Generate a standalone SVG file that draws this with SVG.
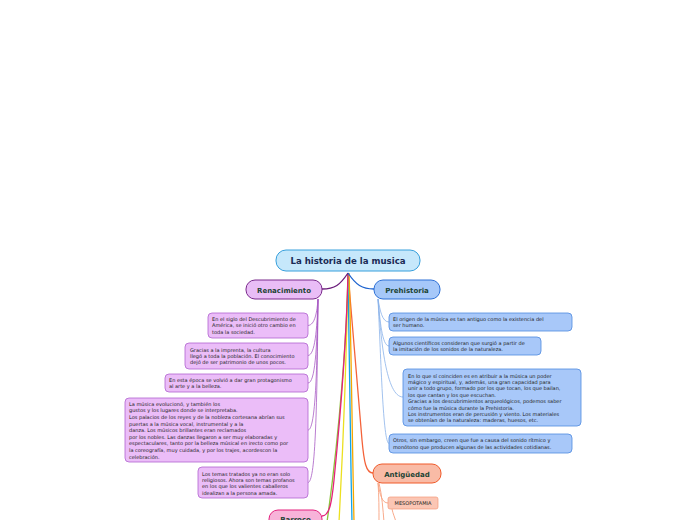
<svg xmlns="http://www.w3.org/2000/svg" width="696" height="520" viewBox="0 0 696 520">
<style>
text{font-family:"DejaVu Sans","Liberation Sans",sans-serif;}
.t{font-size:5px;fill:#222;}
.h{font-size:7px;font-weight:bold;fill:#1c4434;text-anchor:middle;}
.rc{fill:#ebbdf8;stroke:#b063cf;stroke-width:0.8;}
.pc{fill:#a8c8f9;stroke:#4f8ae0;stroke-width:0.8;}
.rl{fill:none;stroke:#a85cc4;stroke-width:0.8;}
.pl{fill:none;stroke:#8ab2ea;stroke-width:0.8;}
.al{fill:none;stroke:#f7a07e;stroke-width:0.9;}
.m{fill:none;stroke-width:1.3;}
</style>
<rect width="696" height="520" fill="#fff"/>
<g id="connectors">
<path class="m" stroke="#f4633a" d="M348,273 L362,440 C364,462 366,473 373,473"/>
<path class="m" stroke="#f6a800" d="M349,273 C351,330 352,430 354,522"/>
<path class="m" stroke="#12a4e8" d="M348,273 C349,330 350,430 352,522"/>
<path class="m" stroke="#ece020" d="M348,273 C347,330 344,430 339,522"/>
<path class="m" stroke="#8cc43c" d="M348,273 C347,330 340,430 327,522"/>
<path class="m" stroke="#e6207a" d="M348,273 C346,360 338,440 334,480 C332,500 330,516 322,516"/>
<path class="m" stroke="#6a1b7a" stroke-width="1.5" d="M348,273 C340,285 335,289 322,289"/>
<path class="m" stroke="#1d63cf" stroke-width="1.5" d="M348,273 C356,285 362,289 374,289"/>
<path class="rl" stroke="#7a2a8c" d="M318,299 C317,312 315,325 308,325.5"/>
<path class="rl" d="M318,299 C317,330 315,355 308,355.5"/>
<path class="rl" d="M318,299 C317,350 315,383 308,383"/>
<path class="rl" d="M318,299 C317,380 315,430 308,430"/>
<path class="rl" d="M318,299 C317,420 315,482 308,482.5"/>
<path class="pl" d="M378,299 C380,310 382,322 389,322"/>
<path class="pl" d="M378,299 C380,320 382,346 389,346"/>
<path class="pl" d="M378,299 C381,340 386,397 403,397"/>
<path class="pl" d="M378,299 C381,360 383,443 389,443.5"/>
<path class="al" d="M378,483 C380,495 382,503 388,503"/>
<path class="al" d="M378,483 C379,495 379,510 379,522"/>
<path class="al" d="M379,483 C382,495 383,510 384,522"/>
<path class="al" d="M392,509 C393,514 395,518 396,522"/>
</g>
<g id="root">
<rect x="276" y="250" width="144" height="21" rx="10" fill="#c6e8fb" stroke="#38a0dc"/>
<text x="348" y="264" font-size="8.6" font-weight="bold" fill="#1b2b55" text-anchor="middle">La historia de la musica</text>
</g>
<g id="renacimiento">
<rect x="246" y="280" width="76" height="19" rx="9" fill="#e9bdf6" stroke="#7a2a8c"/>
<text class="h" x="284" y="292.5">Renacimiento</text>
</g>
<g id="prehistoria">
<rect x="374" y="280" width="66" height="19" rx="9" fill="#a6c8f9" stroke="#2e70d6"/>
<text class="h" x="407" y="292.5">Prehistoria</text>
</g>
<g id="antiguedad">
<rect x="373" y="464" width="68" height="19" rx="9" fill="#f9bba6" stroke="#f05a2a"/>
<text class="h" x="407" y="476.5">Antigüedad</text>
</g>
<g id="barroco">
<rect x="269" y="510" width="53" height="19" rx="9" fill="#f7b3d9" stroke="#e4237f"/>
<text class="h" x="295.5" y="522">Barroco</text>
</g>
<g id="mesopotamia">
<rect x="388" y="497" width="50" height="12" rx="2" fill="#fbc6b4" stroke="#f59a7a" stroke-width="0.7"/>
<text class="t" x="413" y="505" text-anchor="middle" fill="#333">MESOPOTAMIA</text>
</g>
<g id="ren1">
<rect class="rc" x="208" y="313" width="100" height="25" rx="4"/>
<text class="t"><tspan x="212" y="320.8">En el siglo del Descubrimiento de</tspan><tspan x="212" y="327.4">América, se inició otro cambio en</tspan><tspan x="212" y="334">toda la sociedad.</tspan></text>
</g>
<g id="ren2">
<rect class="rc" x="185" y="343" width="123" height="26" rx="4"/>
<text class="t"><tspan x="190" y="351.6">Gracias a la imprenta, la cultura</tspan><tspan x="190" y="358">llegó a toda la población. El conocimiento</tspan><tspan x="190" y="364.4">dejó de ser patrimonio de unos pocos.</tspan></text>
</g>
<g id="ren3">
<rect class="rc" x="165" y="374" width="143" height="18" rx="4"/>
<text class="t"><tspan x="169" y="381.8">En esta época se volvió a dar gran protagonismo</tspan><tspan x="169" y="388.4">al arte y a la belleza.</tspan></text>
</g>
<g id="ren4">
<rect class="rc" x="125" y="398" width="183" height="64" rx="4"/>
<text class="t"><tspan x="129" y="405.8">La música evolucionó, y también los</tspan><tspan x="129" y="412.4">gustos y los lugares donde se interpretaba.</tspan><tspan x="129" y="419">Los palacios de los reyes y de la nobleza cortesana abrían sus</tspan><tspan x="129" y="425.6">puertas a la música vocal, instrumental y a la</tspan><tspan x="129" y="432.2">danza. Los músicos brillantes eran reclamados</tspan><tspan x="129" y="438.8">por los nobles. Las danzas llegaron a ser muy elaboradas y</tspan><tspan x="129" y="445.4">espectaculares, tanto por la belleza músical en irecto como por</tspan><tspan x="129" y="452">la coreografía, muy cuidada, y por los trajes, acordescon la</tspan><tspan x="129" y="458.6">celebración.</tspan></text>
</g>
<g id="ren5">
<rect class="rc" x="198" y="467" width="110" height="31" rx="4"/>
<text class="t"><tspan x="202" y="475.6">Los temas tratados ya no eran solo</tspan><tspan x="202" y="482">religiosos. Ahora son temas profanos</tspan><tspan x="202" y="488.4">en los que los valientes caballeros</tspan><tspan x="202" y="494.8">idealizan a la persona amada.</tspan></text>
</g>
<g id="pre1">
<rect class="pc" x="389" y="313" width="183" height="18" rx="4"/>
<text class="t"><tspan x="393" y="320.8">El origen de la música es tan antiguo como la existencia del</tspan><tspan x="393" y="327.4">ser humano.</tspan></text>
</g>
<g id="pre2">
<rect class="pc" x="389" y="337" width="152" height="18" rx="4"/>
<text class="t"><tspan x="393" y="344.8">Algunos científicos consideran que surgió a partir de</tspan><tspan x="393" y="351.4">la imitación de los sonidos de la naturaleza.</tspan></text>
</g>
<g id="pre3">
<rect class="pc" x="403" y="369" width="178" height="57" rx="4"/>
<text class="t"><tspan x="408" y="377.6">En lo que sí coinciden es en atribuir a la música un poder</tspan><tspan x="408" y="384">mágico y espiritual, y, además, una gran capacidad para</tspan><tspan x="408" y="390.4">unir a todo grupo, formado por los que tocan, los que bailan,</tspan><tspan x="408" y="396.8">los que cantan y los que escuchan.</tspan><tspan x="408" y="403.2">Gracias a los descubrimientos arqueológicos, podemos saber</tspan><tspan x="408" y="409.6">cómo fue la música durante la Prehistoria.</tspan><tspan x="408" y="416">Los instrumentos eran de percusión y viento. Los materiales</tspan><tspan x="408" y="422.4">se obtenían de la naturaleza: maderas, huesos, etc.</tspan></text>
</g>
<g id="pre4">
<rect class="pc" x="389" y="434" width="183" height="19" rx="4"/>
<text class="t"><tspan x="393" y="442.2">Otros, sin embargo, creen que fue a causa del sonido rítmico y</tspan><tspan x="393" y="448.8">monótono que producen algunas de las actividades cotidianas.</tspan></text>
</g>
</svg>
